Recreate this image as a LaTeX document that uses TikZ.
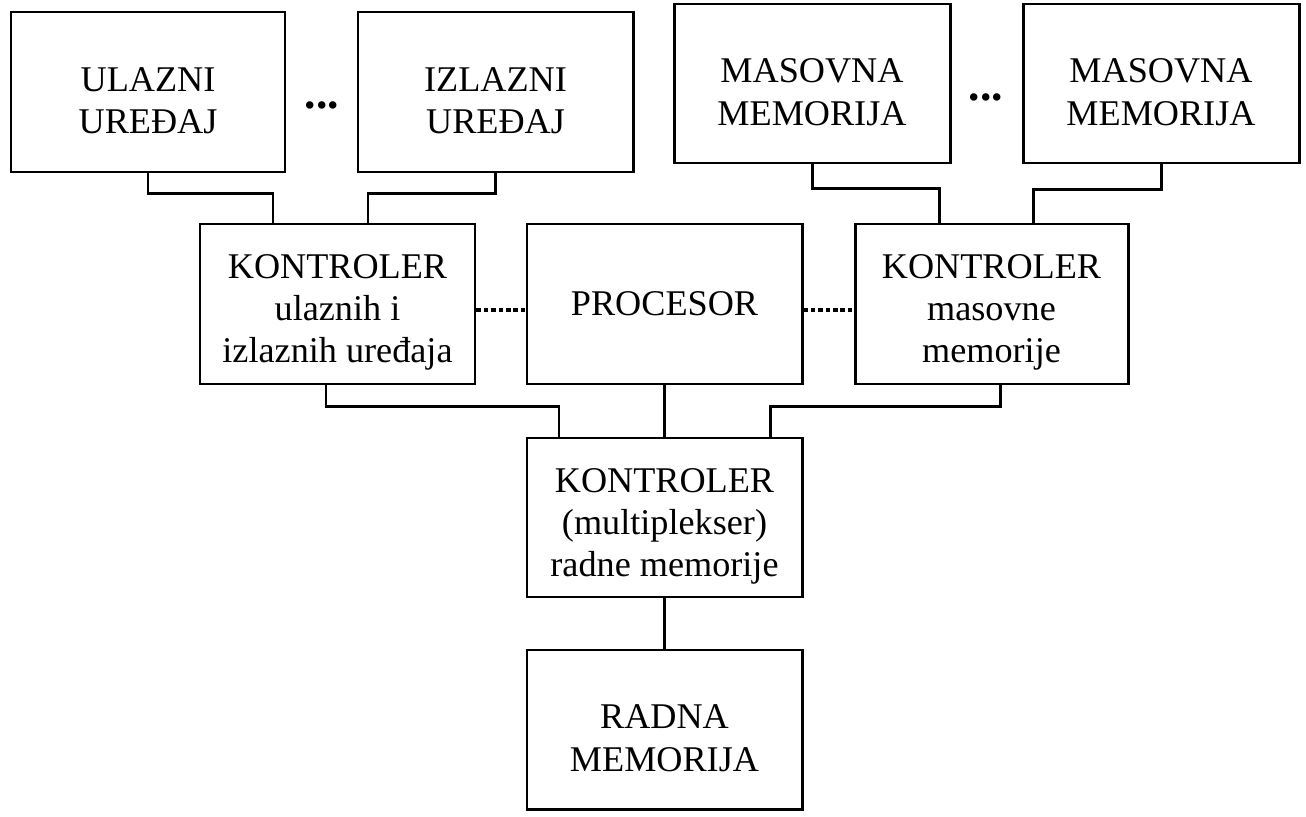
\documentclass[tikz,border=0pt]{standalone}
\usepackage{fontspec}
\setmainfont{Liberation Serif}
\newcommand{\gornja}{\rule{0pt}{23.5pt}}
\begin{document}
\begin{tikzpicture}[line width=1.7pt]

\tikzstyle{every node}=[font=\fontsize{20.6}{24}\selectfont];
\tikzstyle{blok}=[draw, align=center, minimum width=5.5cm, minimum height=3.2cm, inner sep=0pt];
\tikzstyle{tacke}=[line width=2.3pt, dash pattern=on 2.6pt off 1.6pt];
\tikzstyle{tri}=[inner sep=0pt, font=\fontsize{26}{30}\selectfont\bfseries];

\useasboundingbox (0,0) rectangle (26.12,-16.34);

\node[blok, minimum width=5.48cm] (ulazni) at (2.96,-1.84) {\gornja ULAZNI\\UREĐAJ};
\node[blok] (izlazni) at (9.91,-1.84) {\gornja IZLAZNI\\UREĐAJ};
\node[tri] (tackeA) at (6.44,-2.1) {...};

\node[blok, minimum width=5.52cm, minimum height=3.18cm] (masovnaA) at (16.24,-1.67) {\gornja MASOVNA\\MEMORIJA};
\node[blok, minimum width=5.52cm, minimum height=3.18cm] (masovnaB) at (23.22,-1.67) {\gornja MASOVNA\\MEMORIJA};
\node[tri] (tackeB) at (19.72,-1.94) {...};

\node[blok] (konUI) at (6.75,-6.08) {\gornja KONTROLER\\ulaznih i\\izlaznih uređaja};
\node[blok] (procesor) at (13.29,-6.08) {PROCESOR};
\node[blok, minimum width=5.46cm] (konMM) at (19.83,-6.08) {\gornja KONTROLER\\masovne\\memorije};

\node[blok, minimum height=3.18cm] (mux) at (13.29,-10.35) {\gornja KONTROLER\\(multiplekser)\\radne memorije};
\node[blok, minimum height=3.18cm] (radna) at (13.29,-14.59) {\gornja RADNA\\MEMORIJA};

\draw (ulazni.south) -- ++(0,-0.4) -| ([xshift=-1.29cm]konUI.north);
\draw (izlazni.south) -- ++(0,-0.4) -| ([xshift=0.61cm]konUI.north);
\draw (masovnaA.south) -- ++(0,-0.48) -| ([xshift=-1.05cm]konMM.north);
\draw (masovnaB.south) -- ++(0,-0.5) -| ([xshift=0.83cm]konMM.north);

\draw[tacke] ([yshift=-0.12cm]konUI.east) -- ([yshift=-0.12cm]procesor.west);
\draw[tacke] ([yshift=-0.12cm]procesor.east) -- ([yshift=-0.12cm]konMM.west);

\draw ([xshift=-0.23cm]konUI.south) -- ++(0,-0.42) -| ([xshift=-2.11cm]mux.north);
\draw (procesor.south) -- (mux.north);
\draw ([xshift=0.17cm]konMM.south) -- ++(0,-0.42) -| ([xshift=2.11cm]mux.north);
\draw (mux.south) -- (radna.north);
\end{tikzpicture}
\end{document}
